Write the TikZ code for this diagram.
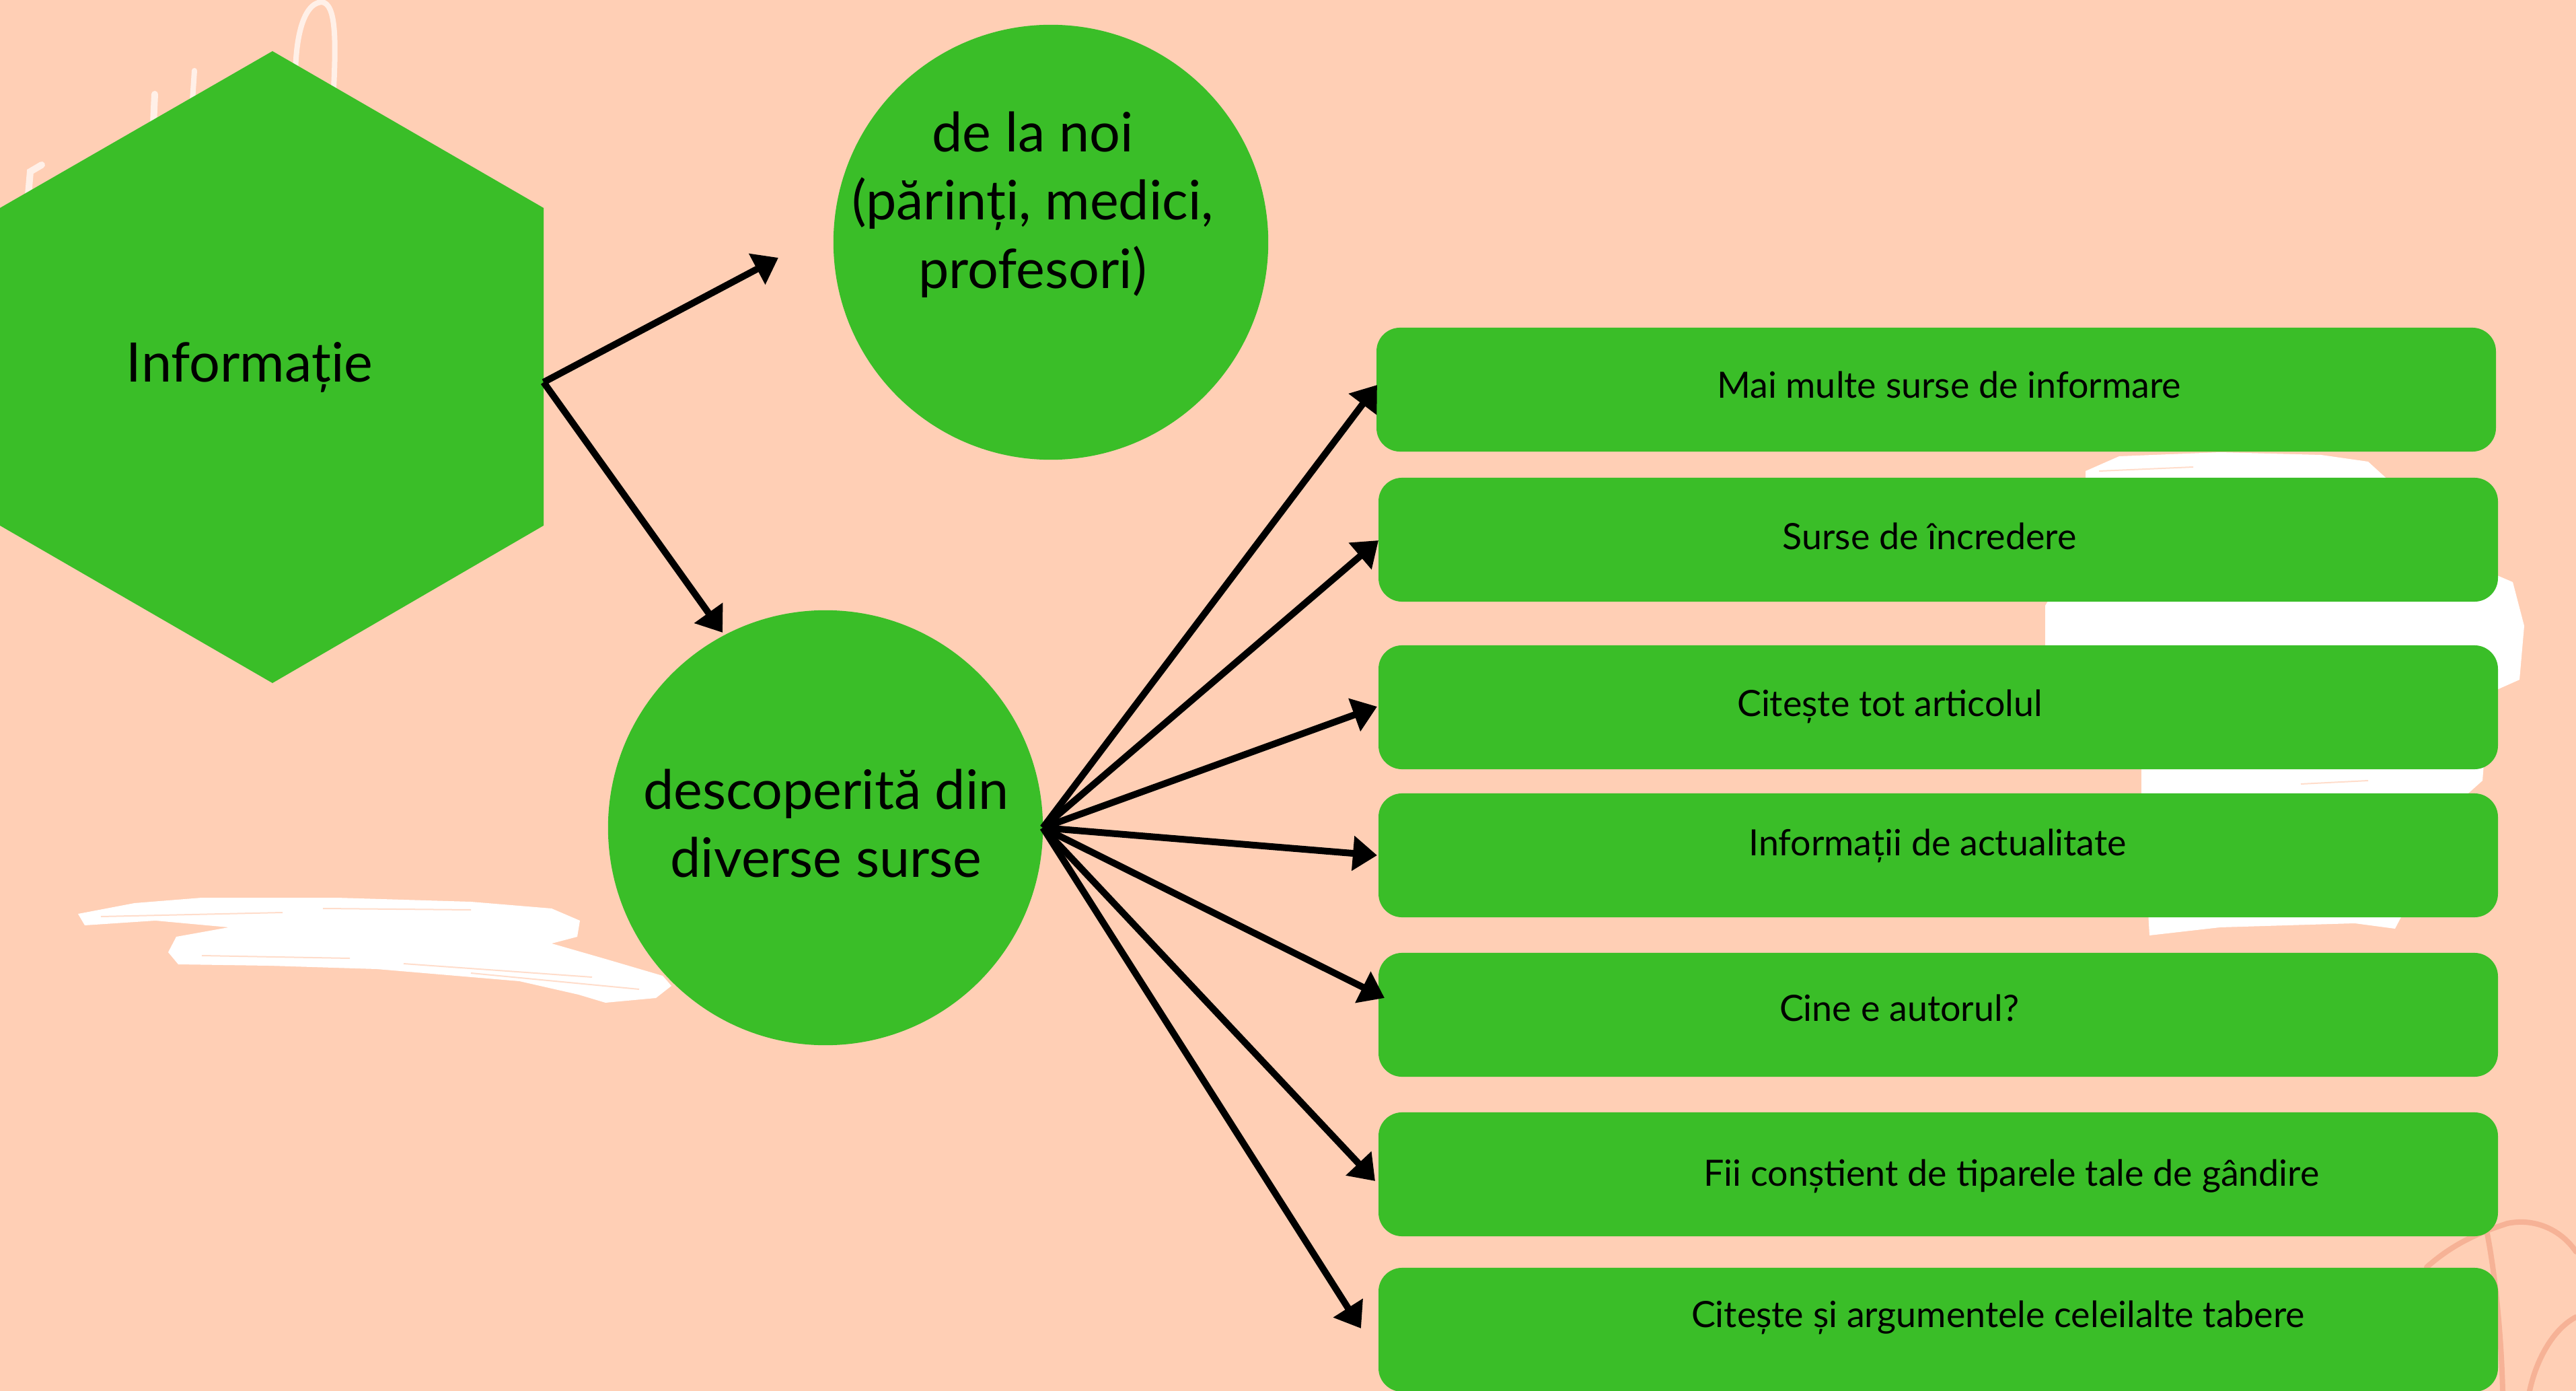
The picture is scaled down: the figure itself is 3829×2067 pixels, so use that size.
\documentclass[tikz,border=0pt]{standalone}
\usepackage{fontspec}
\setmainfont{Lato}
\usetikzlibrary{arrows.meta}
\definecolor{peach}{RGB}{255,207,181}
\definecolor{leaf}{RGB}{58,190,40}
\definecolor{sketch}{RGB}{246,178,150}
\begin{document}
\begin{tikzpicture}[x=0.01cm,y=-0.01cm,
  blob/.style={fill=leaf, draw=none},
  boxnode/.style={blob, rounded corners=0.35cm, minimum width=16.63cm, minimum height=1.84cm, inner sep=0pt, outer sep=0pt},
  circnode/.style={blob, circle, minimum size=6.46cm, inner sep=0pt, outer sep=0pt},
  boxtext/.style={font=\fontsize{15.3}{18}\selectfont, anchor=base, inner sep=0pt},
  bigtext/.style={font=\fontsize{23}{27}\selectfont, anchor=base, inner sep=0pt},
  arr/.style={line width=0.1cm, -{Triangle[length=0.36cm,width=0.5cm]}},
  brush/.style={fill=white, draw=none},
  streak/.style={draw=peach, line width=0.02cm, opacity=0.7},
  scribble/.style={draw=white, line width=0.08cm, line cap=round, opacity=0.7},
  ball/.style={draw=sketch, line width=0.08cm, line cap=round}
]
\useasboundingbox (0,0) rectangle (3829,2067);
\clip (0,0) rectangle (3829,2067);
\fill[peach] (0,0) rectangle (3829,2067);

% decorative white brush strokes
\fill[brush] (116,1358) -- (200,1342) -- (300,1334) -- (500,1334) -- (700,1340) -- (820,1350)
  -- (862,1368) -- (858,1392) -- (820,1402) -- (900,1425) -- (985,1450) -- (998,1465)
  -- (975,1483) -- (900,1490) -- (860,1478) -- (772,1458) -- (560,1440) -- (400,1435)
  -- (265,1433) -- (250,1415) -- (262,1392) -- (340,1378) -- (231,1368) -- (126,1375) -- cycle;
\draw[streak] (150,1362) -- (420,1356);
\draw[streak] (480,1350) -- (700,1352);
\draw[streak] (300,1420) -- (520,1424);
\draw[streak] (600,1432) -- (880,1452);
\draw[streak] (700,1446) -- (950,1470);
\fill[brush] (3100,700) -- (3150,678) -- (3300,672) -- (3450,676) -- (3520,686) -- (3700,850)
  -- (3735,865) -- (3752,930) -- (3745,1010) -- (3700,1030) -- (3690,1160) -- (3662,1185)
  -- (3560,1380) -- (3500,1372) -- (3300,1378) -- (3195,1390) -- (3183,1180) -- (3183,1143)
  -- (3040,960) -- (3040,900) -- (3100,800) -- cycle;
\draw[streak] (3120,700) -- (3260,694);
\draw[streak] (3420,1165) -- (3520,1160);
\draw[scribble] (440,150) .. controls (435,60) and (450,5) .. (478,3)
  .. controls (500,5) and (500,60) .. (495,150);
\draw[scribble, line width=0.1cm] (228,185) -- (230,140);
\draw[scribble] (286,150) -- (289,105);
\draw[scribble, line width=0.1cm] (42,290) -- (45,255) -- (62,245);

% sketched ball, bottom right
\draw[ball] (3607,1883) .. controls (3650,1845) and (3690,1830) .. (3727,1818)
  .. controls (3765,1810) and (3805,1825) .. (3829,1860);
\draw[ball] (3697,1833) .. controls (3710,1900) and (3718,1990) .. (3720,2067);
\draw[ball] (3760,2067) .. controls (3770,2020) and (3795,1975) .. (3829,1957);

% hexagon
\fill[leaf] (405,76) -- (808,309) -- (808,781) -- (405,1015) -- (0,781) -- (0,309) -- cycle;
\coordinate (hexR) at (808,568);
\node[bigtext] (hexT) at (371,568) {Informație};

% circles
\node[circnode] (c1) at (1562,360) {};
\node[circnode] (c2) at (1227,1230) {};
\node[bigtext] (c1a) at (1535,226) {de la noi};
\node[bigtext] (c1b) at (1535,327) {(părinți, medici,};
\node[bigtext] (c1c) at (1535,429) {profesori)};
\node[bigtext] (c2a) at (1228,1202) {descoperită din};
\node[bigtext] (c2b) at (1228,1303) {diverse surse};

% boxes
\node[boxnode] (b1) at (2878,579) {};
\node[boxnode] (b2) at (2881,802) {};
\node[boxnode] (b3) at (2881,1051) {};
\node[boxnode] (b4) at (2881,1271) {};
\node[boxnode] (b5) at (2881,1508) {};
\node[boxnode] (b6) at (2881,1745) {};
\node[boxnode] (b7) at (2881,1976) {};

\node[boxtext] (t1) at (2897,591) {Mai multe surse de informare};
\node[boxtext] (t2) at (2868,816) {Surse de încredere};
\node[boxtext] (t3) at (2809,1064) {Citește tot articolul};
\node[boxtext] (t4) at (2880,1271) {Informații de actualitate};
\node[boxtext] (t5) at (2823,1517) {Cine e autorul?};
\node[boxtext] (t6) at (2990,1762) {Fii conștient de tiparele tale de gândire};
\node[boxtext] (t7) at (2970,1972) {Citește și argumentele celeilalte tabere};

% arrows
\coordinate (a1) at (1157,383);
\coordinate (a2) at (1074,940);
\coordinate (f1) at (2047,572);
\coordinate (f2) at (2049,803);
\coordinate (f3) at (2047,1050);
\coordinate (f4) at (2047,1271);
\coordinate (f5) at (2058,1483);
\coordinate (f6) at (2044,1755);
\coordinate (f7) at (2023,1974);
\draw[arr] (hexR) -- (a1);
\draw[arr] (hexR) -- (a2);
\foreach \t in {f1,f2,f3,f4,f5,f6,f7}
  \draw[arr] (c2.east) -- (\t);
\end{tikzpicture}
\end{document}
